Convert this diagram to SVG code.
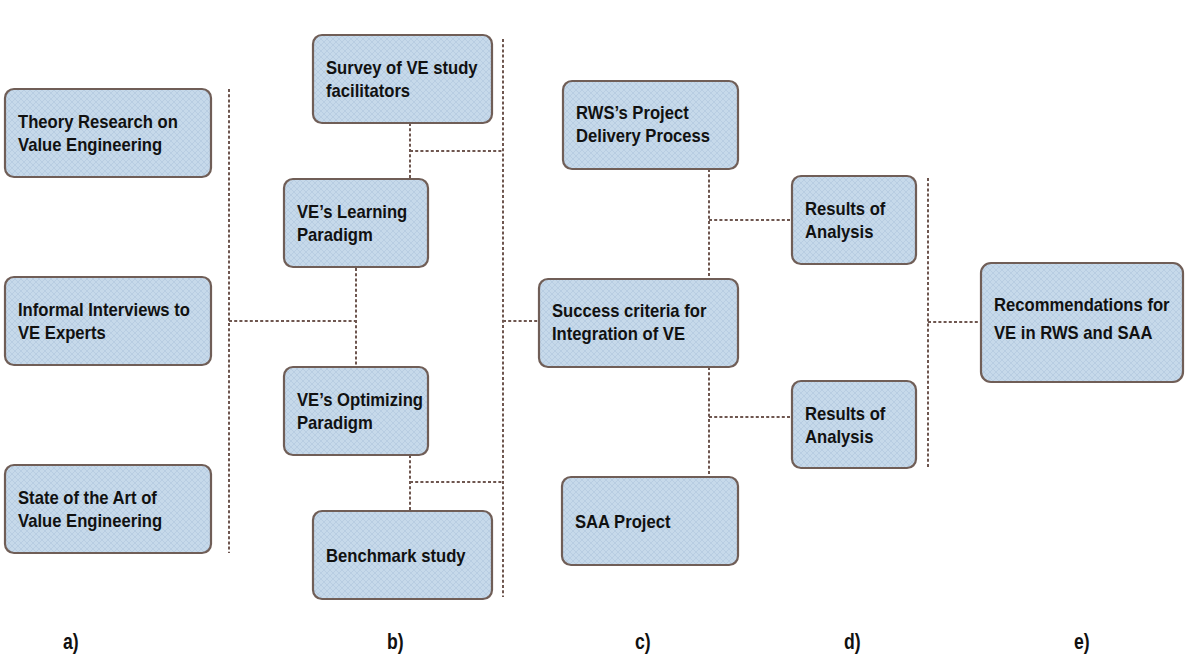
<svg xmlns="http://www.w3.org/2000/svg" width="1198" height="658" viewBox="0 0 1198 658">
  <defs>
    <pattern id="hatch" width="6" height="6" patternUnits="userSpaceOnUse">
      <rect width="6" height="6" fill="#c6d9ea"/>
      <path d="M0,0 L6,6 M6,0 L0,6" stroke="#b5cadf" stroke-width="0.8"/>
    </pattern>
    <style>
      .box { fill: url(#hatch); stroke: #705e57; stroke-width: 2.2; }
      .lbl { font-family: "Liberation Sans", Arial, sans-serif; font-weight: bold; font-size: 18.5px; fill: #111; }
      .col { font-family: "Liberation Sans", Arial, sans-serif; font-weight: bold; font-size: 22px; fill: #111; }
      .conn { fill: none; stroke: #6e564f; stroke-width: 2; stroke-dasharray: 3 2.2; }
    </style>
  </defs>
  <rect width="1198" height="658" fill="#ffffff"/>

  <!-- connectors -->
  <g id="connectors">
    <!-- column a bracket -->
    <path class="conn" d="M229,89 V553"/>
    <path class="conn" d="M229,321 H357"/>
    <!-- column b -->
    <path class="conn" d="M356,268 V367"/>
    <path class="conn" d="M410,123 V179"/>
    <path class="conn" d="M410,151 H503"/>
    <path class="conn" d="M410,455 V511"/>
    <path class="conn" d="M410,482 H503"/>
    <path class="conn" d="M503,39 V597"/>
    <path class="conn" d="M503,321 H539"/>
    <!-- column c -->
    <path class="conn" d="M709,169 V279"/>
    <path class="conn" d="M709,220 H792"/>
    <path class="conn" d="M709,367 V477"/>
    <path class="conn" d="M709,417 H792"/>
    <!-- column d bracket -->
    <path class="conn" d="M928,178 V467"/>
    <path class="conn" d="M928,322 H981"/>
  </g>

  <!-- column a -->
  <g id="theory">
    <rect class="box" x="5" y="89" width="206" height="88" rx="9"/>
    <g class="lbl" transform="translate(18,0) scale(0.9,1)">
      <text x="0" y="128">Theory Research on</text>
      <text x="0" y="151">Value Engineering</text>
    </g>
  </g>
  <g id="interviews">
    <rect class="box" x="5" y="277" width="206" height="88" rx="9"/>
    <g class="lbl" transform="translate(18,0) scale(0.9,1)">
      <text x="0" y="316">Informal Interviews to</text>
      <text x="0" y="339">VE Experts</text>
    </g>
  </g>
  <g id="state-of-art">
    <rect class="box" x="5" y="465" width="206" height="88" rx="9"/>
    <g class="lbl" transform="translate(18,0) scale(0.9,1)">
      <text x="0" y="504">State of the Art of</text>
      <text x="0" y="527">Value Engineering</text>
    </g>
  </g>

  <!-- column b -->
  <g id="survey">
    <rect class="box" x="313" y="35" width="179" height="88" rx="9"/>
    <g class="lbl" transform="translate(326,0) scale(0.9,1)">
      <text x="0" y="74">Survey of VE study</text>
      <text x="0" y="97">facilitators</text>
    </g>
  </g>
  <g id="learning">
    <rect class="box" x="284" y="179" width="144" height="88" rx="9"/>
    <g class="lbl" transform="translate(297,0) scale(0.9,1)">
      <text x="0" y="218">VE’s Learning</text>
      <text x="0" y="241">Paradigm</text>
    </g>
  </g>
  <g id="optimizing">
    <rect class="box" x="284" y="367" width="144" height="88" rx="9"/>
    <g class="lbl" transform="translate(297,0) scale(0.9,1)">
      <text x="0" y="406">VE’s Optimizing</text>
      <text x="0" y="429">Paradigm</text>
    </g>
  </g>
  <g id="benchmark">
    <rect class="box" x="313" y="511" width="179" height="88" rx="9"/>
    <g class="lbl" transform="translate(326,0) scale(0.9,1)">
      <text x="0" y="562">Benchmark study</text>
    </g>
  </g>

  <!-- column c -->
  <g id="rws">
    <rect class="box" x="563" y="81" width="175" height="88" rx="9"/>
    <g class="lbl" transform="translate(576,0) scale(0.9,1)">
      <text x="0" y="119">RWS’s Project</text>
      <text x="0" y="142">Delivery Process</text>
    </g>
  </g>
  <g id="success">
    <rect class="box" x="539" y="279" width="199" height="88" rx="9"/>
    <g class="lbl" transform="translate(552,0) scale(0.9,1)">
      <text x="0" y="317">Success criteria for</text>
      <text x="0" y="340">Integration of VE</text>
    </g>
  </g>
  <g id="saa">
    <rect class="box" x="562" y="477" width="176" height="88" rx="9"/>
    <g class="lbl" transform="translate(575,0) scale(0.9,1)">
      <text x="0" y="528">SAA Project</text>
    </g>
  </g>

  <!-- column d -->
  <g id="results-1">
    <rect class="box" x="792" y="176" width="124" height="88" rx="9"/>
    <g class="lbl" transform="translate(805,0) scale(0.9,1)">
      <text x="0" y="215">Results of</text>
      <text x="0" y="238">Analysis</text>
    </g>
  </g>
  <g id="results-2">
    <rect class="box" x="792" y="381" width="124" height="87" rx="9"/>
    <g class="lbl" transform="translate(805,0) scale(0.9,1)">
      <text x="0" y="420">Results of</text>
      <text x="0" y="443">Analysis</text>
    </g>
  </g>

  <!-- column e -->
  <g id="recommendations">
    <rect class="box" x="981" y="263" width="202" height="119" rx="10"/>
    <g class="lbl" transform="translate(994,0) scale(0.9,1)">
      <text x="0" y="311">Recommendations for</text>
      <text x="0" y="339">VE in RWS and SAA</text>
    </g>
  </g>

  <!-- column captions -->
  <g id="captions" class="col">
    <text transform="translate(63,649) scale(0.8,1)">a)</text>
    <text transform="translate(387,649) scale(0.8,1)">b)</text>
    <text transform="translate(635,649) scale(0.8,1)">c)</text>
    <text transform="translate(844,649) scale(0.8,1)">d)</text>
    <text transform="translate(1074,649) scale(0.8,1)">e)</text>
  </g>
</svg>
